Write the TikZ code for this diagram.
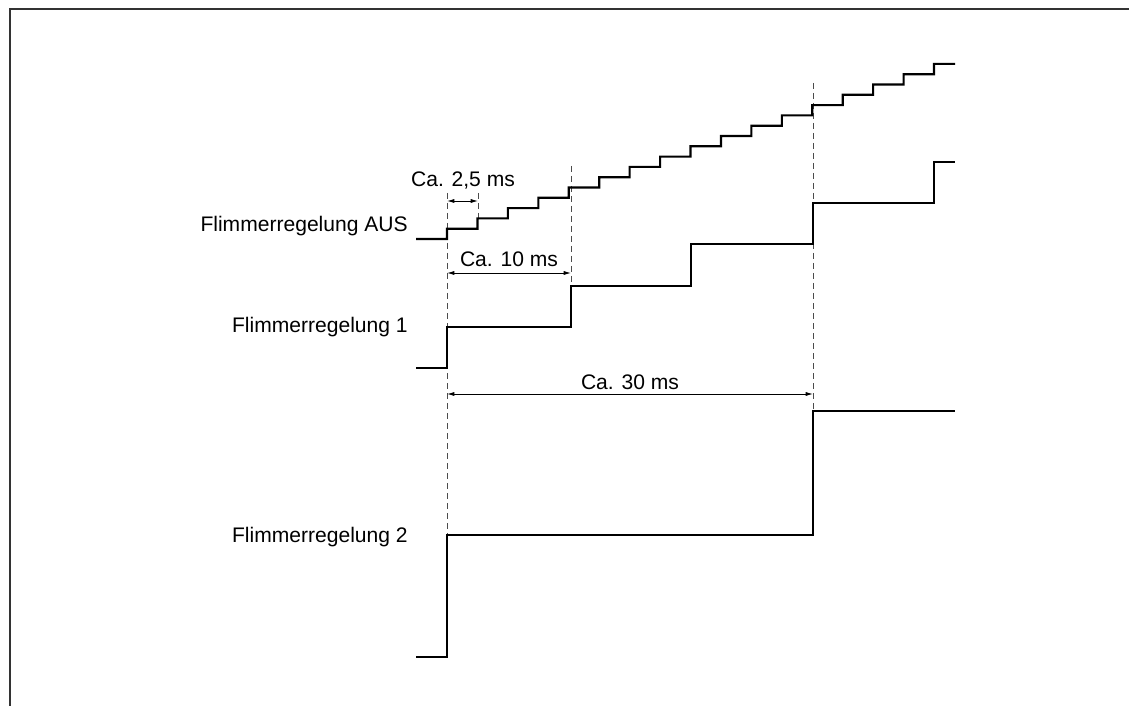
\documentclass[tikz,border=0pt]{standalone}
\usepackage{fontspec}
\setmainfont{Liberation Sans}
\usetikzlibrary{arrows.meta}
\begin{document}
\begin{tikzpicture}[x=0.75pt,y=-0.75pt,
  sig/.style={line width=1.6pt,black,line join=miter},
  guide/.style={line width=0.75pt,color=black!70,dash pattern=on 4.5pt off 3pt},
  dim/.style={line width=0.6pt,black,{Latex[length=5.5pt,width=3pt]}-{Latex[length=5.5pt,width=3pt]}},
  lbl/.style={font=\fontsize{15.8}{19}\selectfont,inner sep=0pt},
  frameline/.style={line width=1.1pt,color=black!80}]
\useasboundingbox (0,0) rectangle (1129,706);
\fill[white] (0,0) rectangle (1129,706);
% frame
\draw[frameline] (1129,9) -- (10,9) -- (10,706);
% guide lines
\coordinate (g1t) at (447,193); \coordinate (g1b) at (447,535);
\coordinate (g2t) at (478,193); \coordinate (g2b) at (478,218);
\coordinate (g3t) at (571,166); \coordinate (g3b) at (571,286);
\coordinate (g4t) at (813,83);  \coordinate (g4b) at (813,411);
\draw[guide] (g1t) -- (g1b);
\draw[guide] (g2t) -- (g2b);
\draw[guide] (g3t) -- (g3b);
\draw[guide] (g4t) -- (g4b);
% dimension arrows
\coordinate (a1l) at (447,201); \coordinate (a1r) at (478,201);
\coordinate (a2l) at (447,273); \coordinate (a2r) at (571,273);
\coordinate (a3l) at (447,394); \coordinate (a3r) at (813,394);
\draw[dim] (a1l) -- (a1r);
\draw[dim] (a2l) -- (a2r);
\draw[dim] (a3l) -- (a3r);
\node[lbl,anchor=base] (d1) at (463,187) {Ca. 2,5 ms};
\node[lbl,anchor=base] (d2) at (509,267) {Ca. 10 ms};
\node[lbl,anchor=base] (d3) at (630,389) {Ca. 30 ms};
% signal labels
\node[lbl,anchor=base east] (laus) at (408,232) {Flimmerregelung AUS};
\node[lbl,anchor=base east] (l1) at (408,332) {Flimmerregelung 1};
\node[lbl,anchor=base east] (l2) at (408,542) {Flimmerregelung 2};
% signal AUS (staircase)
\draw[sig] (416,239) -- (447,239)
  foreach \k in {1,...,16} { -- ++(0,-10.3) -- ++(30.44,0) }
  -- ++(0,-10.3) -- (955,63.9);
% signal 1
\draw[sig] (416,368) -- (447,368) -- (447,327) -- (571,327) -- (571,286)
  -- (691,286) -- (691,244) -- (813,244) -- (813,203) -- (934,203)
  -- (934,162) -- (955,162);
% signal 2
\draw[sig] (416,657) -- (447,657) -- (447,535) -- (813,535) -- (813,411) -- (955,411);
\end{tikzpicture}
\end{document}
